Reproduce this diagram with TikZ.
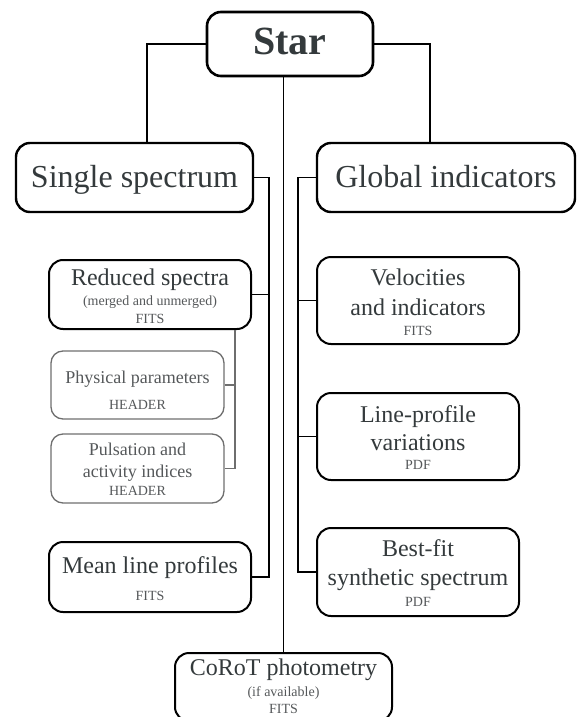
\documentclass[tikz,border=0pt]{standalone}
\usepackage{fontspec}
\setmainfont{Liberation Serif}
\usepackage{tikz}

\definecolor{txtgrey}{RGB}{52,58,60}
\definecolor{smgrey}{RGB}{85,88,90}
\definecolor{lightbox}{RGB}{110,110,110}
\newcommand{\sm}{\fontsize{14}{0}\selectfont\color{smgrey}}
\newcommand{\tightlines}{\lineskiplimit=-1000pt\relax}

\tikzset{
	box/.style={draw, line width=2pt, rounded corners=14pt, text=txtgrey, align=center, inner sep=0pt,
		text depth=0pt, font={\fontsize{24}{0}\selectfont\tightlines}},
	greybox/.style={box, draw=lightbox, line width=1.3pt, rounded corners=12pt, text=smgrey,
		font={\fontsize{18}{0}\selectfont\tightlines}},
	branch/.style={line width=2.2pt},
	link/.style={line width=1.4pt}
}

\begin{document}
\begin{tikzpicture}[x=1pt, y=-1pt]
	\useasboundingbox (0,0) rectangle (576,717);
	\node[box, line width=2.6pt, minimum width=166pt, minimum height=64pt, text height=22pt,
		font=\bfseries\fontsize{40}{40}\selectfont] (star) at (290,44) {Star};
	\node[box, line width=2.4pt, minimum width=237pt, minimum height=69pt, text height=19pt,
		font=\fontsize{32}{32}\selectfont] (single) at (134.5,177.5) {Single spectrum};
	\node[box, line width=2.4pt, minimum width=258pt, minimum height=69pt, text height=19pt,
		font=\fontsize{32}{32}\selectfont] (global) at (446,177.5) {Global indicators};
		\node[box, minimum width=202pt, minimum height=69pt, text height=57pt] (reduced) at (150,294.5)
			{Reduced spectra\\[20pt]{\sm (merged and unmerged)}\\[18pt]{\sm FITS}};
			\node[greybox, minimum width=173pt, minimum height=68pt, text height=48pt] (phys) at (137.5,385)
				{Physical parameters\\[26pt]{\sm HEADER}};
			\node[greybox, minimum width=173pt, minimum height=69pt, text height=53pt] (puls) at (137.5,468.5)
				{Pulsation and\\[22pt]activity indices\\[18pt]{\sm HEADER}};
		\node[box, minimum width=202pt, minimum height=70pt, text height=46pt] (mean) at (150,577)
			{Mean line profiles\\[27pt]{\sm FITS}};
		\node[box, minimum width=202pt, minimum height=87pt, text height=69pt] (velo) at (418,300.5)
			{Velocities\\[30pt]and indicators\\[20pt]{\sm FITS}};
		\node[box, minimum width=202pt, minimum height=87pt, text height=65pt] (lineprof) at (418,436.5)
			{Line-profile\\[28pt]variations\\[19pt]{\sm PDF}};
		\node[box, minimum width=202pt, minimum height=88pt, text height=68pt] (bestfit) at (418,572)
			{Best-fit\\[29pt]synthetic spectrum\\[21pt]{\sm PDF}};
	\node[box, minimum width=217pt, minimum height=68pt, text height=52pt] (corot) at (283.5,687)
		{CoRoT photometry\\[21pt]{\sm (if available)}\\[17pt]{\sm FITS}};
	\coordinate (lspine) at (269,0);
	\coordinate (rspine) at (298,0);
	\coordinate (subspine) at (235,0);
	\draw[branch] (star.west) -| ([xshift=12.5pt]single.north);
	\draw[branch] (star.east) -| ([xshift=-16pt]global.north);
	\draw[link] (corot.north) -- (corot.north |- star.south);
	\draw[link] (single.east) -- (single.east -| lspine) |- (mean.east);
	\draw[link] (reduced.east) -- (reduced.east -| lspine);
	\draw[link] (global.west) -- (global.west -| rspine) |- (bestfit.west);
	\draw[link] (velo.west) -- (velo.west -| rspine);
	\draw[link] (lineprof.west) -- (lineprof.west -| rspine);
	\draw[link, draw=lightbox] (reduced.south -| subspine) |- (puls.east);
	\draw[link, draw=lightbox] (phys.east) -- (phys.east -| subspine);
\end{tikzpicture}
\end{document}
